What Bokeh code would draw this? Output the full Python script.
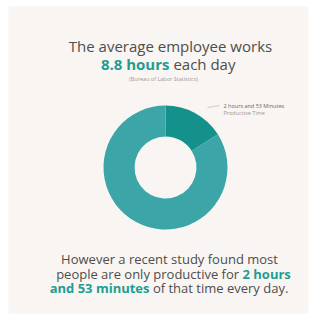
import numpy as np
from bokeh.plotting import figure
from bokeh.models import Range1d, ColumnDataSource
from bokeh.core.properties import value
from bokeh.embed import file_html
from bokeh.resources import INLINE

# ---- data ----
categories = ["Productive Time", "Rest of Workday"]
shares = [16, 84]
seg_colors = ["#13918a", "#3ba5a8"]
avg_hours = "8.8 hours"
productive_label = "2 hours and 53 Minutes"
productive_text = "2 hours"
productive_text2 = "and 53 minutes"

# frame occupies page x 8..308, y 6..313
FX0, FY0, FW, FH = 8, 6, 300, 307
BG = "#f9f5f2"
TEAL = "#1e9d92"
DARK = "#4d4d4d"
FONT = value("Open Sans")
NB = "\u00a0"

def px(x):
    return x - FX0

def py(y):
    return (FY0 + FH) - y

p = figure(width=309, height=314, output_backend="svg", toolbar_location=None,
           x_range=Range1d(0, FW), y_range=Range1d(0, FH),
           background_fill_color=BG, border_fill_color="white",
           outline_line_color=None,
           min_border_left=FX0, min_border_top=FY0,
           min_border_right=309 - FX0 - FW, min_border_bottom=314 - FY0 - FH)
p.axis.visible = False
p.grid.visible = False

# donut
total = float(sum(shares))
fr = np.array(shares) / total
ends = np.pi / 2 - 2 * np.pi * np.cumsum(fr)
starts = np.concatenate([[np.pi / 2], ends[:-1]])
src = ColumnDataSource(dict(start=ends, end=starts, color=seg_colors, cat=categories,
                            x=[px(165)] * len(shares), y=[py(167)] * len(shares)))
p.annular_wedge(x="x", y="y", inner_radius=31, outer_radius=62,
                inner_radius_units="screen", outer_radius_units="screen",
                start_angle="start", end_angle="end", color="color",
                line_color=None, source=src)

def txt(x, y, s, size, color, align="center", style="normal"):
    p.text(x=[px(x)], y=[py(y)], text=[s], text_font=FONT,
           text_font_size=f"{size}px", text_color=color, text_align=align,
           text_baseline="middle", text_font_style=style)

# titles
txt(170, 45, "The average employee works", 15, DARK)
txt(169, 63, avg_hours, 15, TEAL, "right", "bold")
txt(169, 63, NB + "each day", 15, DARK, "left")
txt(163, 78, "(Bureau of Labor Statistics)", 5.5, "#9a9a9a")

# label
p.line(x=[px(207), px(219)], y=[py(107), py(105)], line_color="#bbbbbb", line_width=0.7)
txt(223, 105, productive_label, 5.5, "#666666", "left")
txt(223, 112, categories[0], 5.5, "#999999", "left")

# bottom text
txt(169, 258, "However a recent study found most", 13, DARK)
txt(242, 273, "people are only productive for" + NB, 13, DARK, "right")
txt(242, 273, productive_text, 13, TEAL, "left", "bold")
txt(149, 287, productive_text2, 13, TEAL, "right", "bold")
txt(149, 287, NB + "of that time every day.", 13, DARK, "left")

open("out.html", "w").write(file_html(p, INLINE))
